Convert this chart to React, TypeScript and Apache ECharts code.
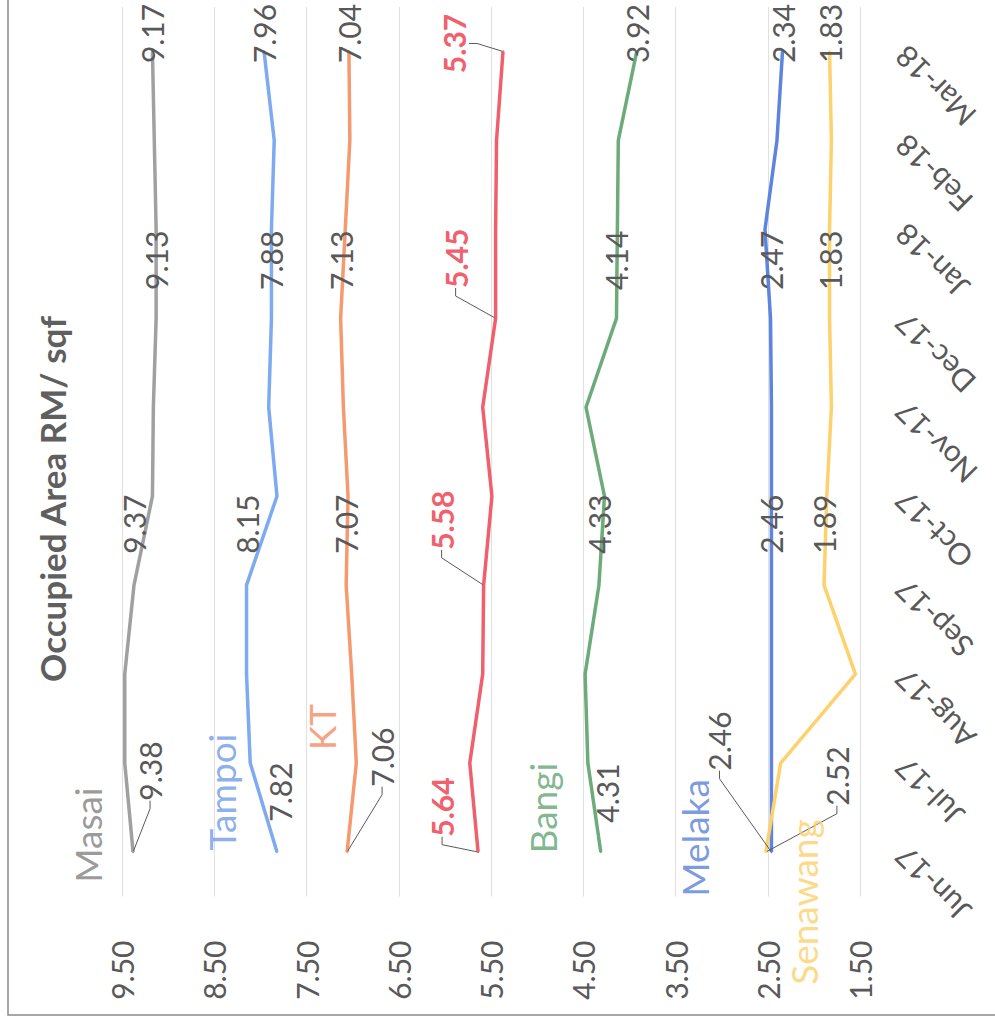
import React, { useEffect, useRef } from "react";
import * as echarts from "echarts";

// ---------- data ----------
const categories = ["Jun-17", "Jul-17", "Aug-17", "Sep-17", "Oct-17", "Nov-17", "Dec-17", "Jan-18", "Feb-18", "Mar-18"];
const valueTicks = [1.5, 2.5, 3.5, 4.5, 5.5, 6.5, 7.5, 8.5, 9.5];

const masai = [9.38, 9.47, 9.47, 9.37, 9.17, 9.16, 9.13, 9.13, 9.15, 9.17];
const tampoi = [7.82, 8.11, 8.15, 8.15, 7.82, 7.91, 7.88, 7.88, 7.85, 7.96];
const kt = [7.06, 6.96, 7.01, 7.07, 7.05, 7.1, 7.13, 7.08, 7.03, 7.04];
const red = [5.64, 5.73, 5.59, 5.58, 5.49, 5.59, 5.45, 5.45, 5.44, 5.37];
const bangi = [4.31, 4.45, 4.48, 4.33, 4.27, 4.47, 4.14, 4.13, 4.12, 3.92];
const melaka = [2.46, 2.46, 2.46, 2.46, 2.46, 2.46, 2.47, 2.53, 2.4, 2.34];
const senawang = [2.52, 2.36, 1.55, 1.89, 1.86, 1.81, 1.83, 1.83, 1.81, 1.83];

const labelledIdx = [0, 3, 6, 9];
const title = "Occupied Area RM/ sqf";

// ---------- styling ----------
const FONT = "Lato, 'Liberation Sans', sans-serif";
const TXT = "#595959";

type Cfg = {
  name: string;
  data: number[];
  color: string;
  nameColor: string;
  labelColor: string;
  bold?: boolean;
  showName: boolean;
  offsets: Record<number, [number, number]>;
  leader: number[];
  nameOffset?: [number, number];
};

// screen-space offsets [dx, dy] of label centres from their points
const std: Record<number, [number, number]> = { 3: [0, -61], 6: [0, -58], 9: [0, -18] };

const cfgs: Cfg[] = [
  { name: "Masai", data: masai, color: "#a0a0a0", nameColor: "#7f7f7f", labelColor: TXT, showName: true,
    offsets: { ...std, 0: [17, -81] }, leader: [0], nameOffset: [-46, -17] },
  { name: "Tampoi", data: tampoi, color: "#7eaaf0", nameColor: "#6f9ae6", labelColor: TXT, showName: true,
    offsets: { ...std, 0: [3, -60] }, leader: [], nameOffset: [-55, -60] },
  { name: "KT", data: kt, color: "#f59a70", nameColor: "#f48a62", labelColor: TXT, showName: true,
    offsets: { ...std, 0: [35, -95] }, leader: [0], nameOffset: [-26, -125] },
  { name: "Series 4", data: red, color: "#f0606c", nameColor: "#f0606c", labelColor: "#f0616e", bold: true, showName: false,
    offsets: { 0: [-36, -45], 3: [-42, -65], 6: [-40, -60], 9: [-49, -8] }, leader: [0, 3, 6, 9] },
  { name: "Bangi", data: bangi, color: "#6dab7a", nameColor: "#5fa472", labelColor: TXT, showName: true,
    offsets: { ...std, 0: [6, -59] }, leader: [], nameOffset: [-58, -44] },
  { name: "Melaka", data: melaka, color: "#5d84de", nameColor: "#5a7fd8", labelColor: TXT, showName: true,
    offsets: { ...std, 0: [-52, -111] }, leader: [0], nameOffset: [-77, -14] },
  { name: "Senawang", data: senawang, color: "#fdd16c", nameColor: "#fcd06a", labelColor: TXT, showName: true,
    offsets: { ...std, 0: [71, -76] }, leader: [0], nameOffset: [38, 50] },
];

// labels are rotated 90deg, so labelLayout dx/dy act in the rotated frame
const toLocal = (o: [number, number]) => ({ dx: -o[1], dy: o[0] });

function buildOption() {
  const series: any[] = cfgs.map((c) => ({
    type: "line",
    name: c.name,
    showSymbol: true,
    symbol: "circle",
    symbolSize: 2,
    itemStyle: { color: c.color },
    lineStyle: { color: c.color, width: 3.5 },
    emphasis: { disabled: true },
    label: {
      show: false,
      position: "inside",
      rotate: 90,
      align: "center",
      verticalAlign: "middle",
      fontSize: 30,
      fontFamily: FONT,
      fontWeight: c.bold ? "bold" : "normal",
      color: c.labelColor,
      formatter: (p: any) => Number(p.value[0]).toFixed(2),
    },
    labelLine: { show: false, length2: 8, lineStyle: { color: TXT, width: 1 } },
    labelLayout: (p: any) => {
      const o = c.offsets[p.dataIndex];
      return o ? toLocal(o) : {};
    },
    data: c.data.map((v, i) => ({
      value: [v, i],
      label: { show: labelledIdx.includes(i) },
      labelLine: { show: c.leader.includes(i) },
    })),
  }));

  const named = cfgs.filter((c) => c.showName);
  series.push({
    type: "scatter",
    name: "names",
    symbolSize: 1,
    itemStyle: { color: "rgba(0,0,0,0)" },
    emphasis: { disabled: true },
    z: 5,
    label: {
      show: true,
      position: "inside",
      rotate: 90,
      align: "center",
      verticalAlign: "middle",
      fontSize: 37,
      fontFamily: FONT,
      formatter: "{b}",
    },
    labelLayout: (p: any) => toLocal(named[p.dataIndex].nameOffset as [number, number]),
    data: named.map((c) => ({
      name: c.name,
      value: [c.data[0], 0],
      label: { color: c.nameColor },
    })),
  });

  return {
    animation: false,
    backgroundColor: "#ffffff",
    grid: { left: 122, right: 135, top: 7, bottom: 130.5, containLabel: false, outerBoundsMode: "none" },
    xAxis: {
      type: "value",
      inverse: true,
      position: "bottom",
      min: valueTicks[0],
      max: valueTicks[valueTicks.length - 1],
      interval: valueTicks[1] - valueTicks[0],
      axisLine: { show: false },
      axisTick: { show: false },
      splitLine: { show: true, lineStyle: { color: "#e0e0e0", width: 1 } },
      axisLabel: {
        rotate: 90,
        margin: 44,
        align: "right",
        verticalAlign: "middle",
        fontSize: 30,
        fontFamily: FONT,
        color: TXT,
        formatter: (v: number) => v.toFixed(2),
      },
    },
    yAxis: {
      type: "category",
      position: "right",
      data: categories,
      boundaryGap: true,
      axisLine: { show: false },
      axisTick: { show: false },
      splitLine: { show: false },
      axisLabel: {
        interval: 0,
        rotate: 135,
        margin: 40,
        align: "right",
        verticalAlign: "middle",
        fontSize: 30,
        fontFamily: FONT,
        color: TXT,
      },
    },
    graphic: [
      {
        type: "rect",
        silent: true,
        shape: { x: 8, y: -10, width: 1010, height: 1025 },
        style: { fill: "none", stroke: "#8a8a8a", lineWidth: 1.5 },
        z: 100,
      },
      {
        type: "text",
        x: 52,
        y: 499,
        rotation: Math.PI / 2,
        style: {
          text: title,
          x: 0,
          y: 0,
          textAlign: "center",
          textVerticalAlign: "middle",
          fontSize: 35,
          fontWeight: "bold",
          fontFamily: FONT,
          fill: "#5f5f5f",
        },
      },
    ],
    series,
  };
}

export default function App() {
  const ref = useRef<HTMLDivElement>(null);
  useEffect(() => {
    if (!ref.current) return;
    const chart = echarts.init(ref.current, undefined, { renderer: "svg" });
    chart.setOption(buildOption() as any);
    return () => chart.dispose();
  }, []);
  return (
    <div
      ref={ref}
      style={{ position: "fixed", left: 0, top: 0, width: 995, height: 1027, background: "#fff" }}
    />
  );
}
